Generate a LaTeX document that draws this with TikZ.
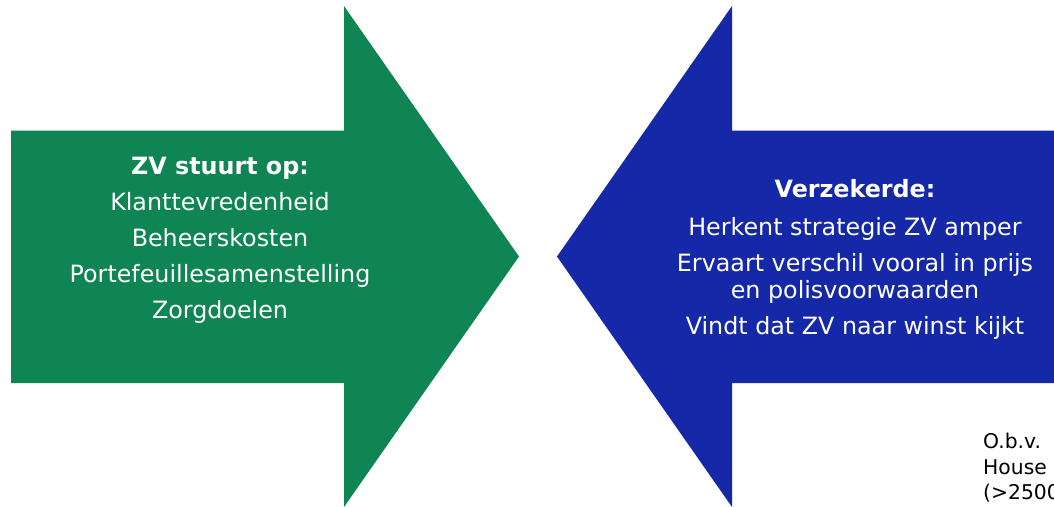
\documentclass[tikz,border=0pt]{standalone}
\usepackage{fontspec}
\setmainfont{DejaVu Sans}
\definecolor{zvgreen}{HTML}{0F8553}
\definecolor{zvblue}{HTML}{1428A8}
\tikzset{
  arrowtext/.style={text=white, align=center, inner sep=0pt, font=\fontsize{23.8}{27.5}\selectfont},
  notetext/.style={text=black, align=left, inner sep=0pt, font=\fontsize{20.3}{25.5}\selectfont}
}
\begin{document}
\begin{tikzpicture}[x=1pt,y=-1pt]
\useasboundingbox (0,0) rectangle (1054,506);
\begin{scope}
\clip (0,0) rectangle (1054,506);
\fill[zvgreen] (11,130.5) -- (344,130.5) -- (344,6) -- (519,256.5) -- (344,507) -- (344,383) -- (11,383) -- cycle;
\fill[zvblue] (1060,130.5) -- (732,130.5) -- (732,6) -- (557,256.5) -- (732,507) -- (732,383) -- (1060,383) -- cycle;
\node[arrowtext] (zv) at (220,240.5) {\textbf{ZV stuurt op:}\\[8.5pt]Klanttevredenheid\\[8.5pt]Beheerskosten\\[8.5pt]Portefeuillesamenstelling\\[8.5pt]Zorgdoelen};
\node[arrowtext] (verz) at (855,259.5) {\textbf{Verzekerde:}\\[10.5pt]Herkent strategie ZV amper\\[8.5pt]Ervaart verschil vooral in prijs\\en polisvoorwaarden\\[8.5pt]Vindt dat ZV naar winst kijkt};
\node[notetext, anchor=north west] (note) at (983,433) {O.b.v.\\House\\(>2500};
\end{scope}
\end{tikzpicture}
\end{document}
